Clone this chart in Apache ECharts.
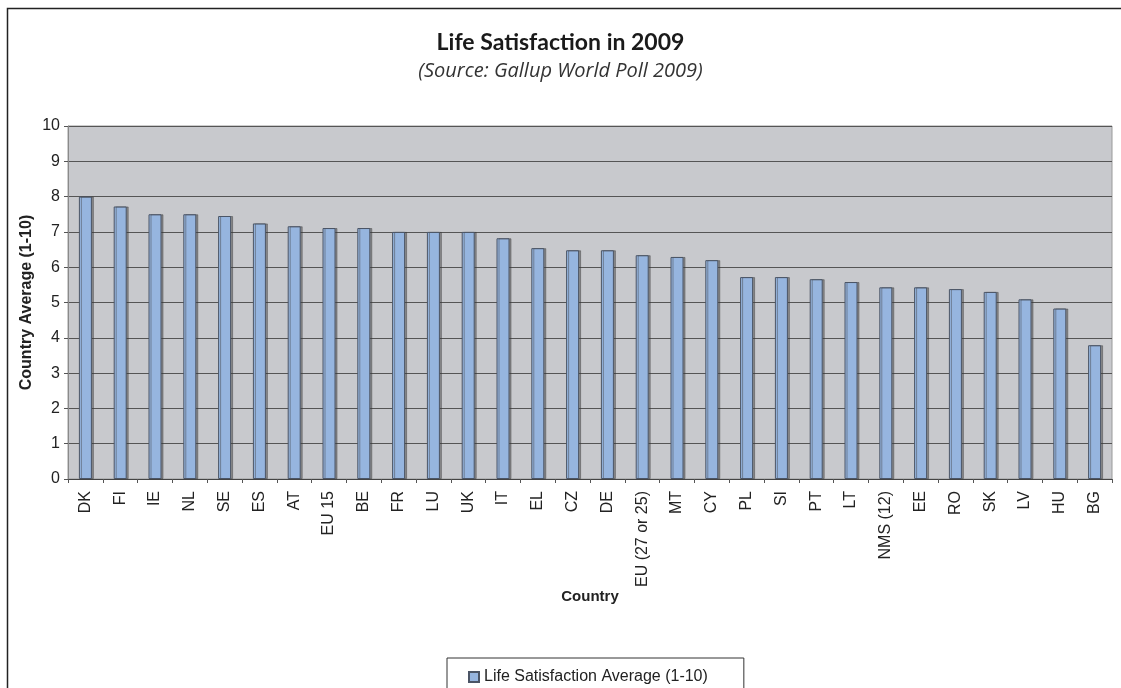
<!DOCTYPE html>
<html>
<head>
<meta charset="utf-8">
<title>Life Satisfaction in 2009</title>
<script src="https://cdn.jsdelivr.net/npm/echarts@6/dist/echarts.min.js"></script>
<style>
  html, body { margin: 0; padding: 0; background: #fff; }
  #chart { width: 1121px; height: 688px; }
</style>
</head>
<body>
<div id="chart"></div>
<script>
// country codes, in the order shown
const countries = ['DK', 'FI', 'IE', 'NL', 'SE', 'ES', 'AT', 'EU 15', 'BE', 'FR', 'LU', 'UK', 'IT', 'EL',
  'CZ', 'DE', 'EU (27 or 25)', 'MT', 'CY', 'PL', 'SI', 'PT', 'LT', 'NMS (12)', 'EE', 'RO', 'SK', 'LV', 'HU', 'BG'];
// life satisfaction average (1-10)
const satisfaction = [8.0, 7.72, 7.5, 7.5, 7.45, 7.24, 7.16, 7.11, 7.11, 7.0, 7.0, 7.0, 6.82, 6.54,
  6.48, 6.48, 6.34, 6.29, 6.2, 5.72, 5.72, 5.66, 5.58, 5.43, 5.43, 5.38, 5.3, 5.09, 4.83, 3.79];
const seriesName = 'Life Satisfaction Average (1-10)';

const chart = echarts.init(document.getElementById('chart'));

const labelFont = 'Arial, Liberation Sans';

const option = {
  backgroundColor: '#fff',
  animation: false,
  title: {
    text: 'Life Satisfaction in 2009',
    subtext: '(Source: Gallup World Poll 2009)',
    left: 'center',
    top: 26,
    itemGap: 7,
    textStyle: { fontFamily: 'Lato', fontWeight: 'bold', fontSize: 23, color: '#1a1a1a' },
    subtextStyle: { fontFamily: 'Open Sans', fontStyle: 'italic', fontSize: 20, color: '#333' }
  },
  // outer frame of the chart (only left and top edges are in view)
  graphic: [{
    type: 'rect',
    silent: true,
    shape: { x: 7.5, y: 8.5, width: 1300, height: 900 },
    style: { fill: 'none', stroke: '#222', lineWidth: 1.5 }
  }],
  legend: {
    data: [seriesName],
    left: 447,
    top: 658,
    padding: [11, 36, 20, 21],
    itemWidth: 10,
    itemHeight: 10,
    itemGap: 8,
    icon: 'rect',
    borderColor: '#333',
    borderWidth: 1,
    textStyle: { fontFamily: labelFont, fontSize: 16, color: '#222' }
  },
  grid: {
    left: 68,
    right: 9,
    top: 126,
    bottom: 209,
    show: true,
    backgroundColor: '#C8C9CD',
    borderColor: '#9a9a9a',
    borderWidth: 1
  },
  xAxis: {
    type: 'category',
    data: countries,
    boundaryGap: true,
    name: 'Country',
    nameLocation: 'middle',
    nameGap: 110,
    nameMoveOverlap: false,
    nameTextStyle: { fontFamily: labelFont, fontWeight: 'bold', fontSize: 15, color: '#222' },
    axisLine: { lineStyle: { color: '#444', width: 1 } },
    axisTick: { show: true, alignWithLabel: false, length: 4, lineStyle: { color: '#555' } },
    axisLabel: {
      rotate: 90,
      interval: 0,
      margin: 12,
      fontFamily: labelFont,
      fontSize: 16,
      color: '#222'
    },
    splitLine: { show: false }
  },
  yAxis: {
    type: 'value',
    min: 0,
    max: 10,
    interval: 1,
    name: 'Country Average (1-10)',
    nameLocation: 'middle',
    nameGap: 33,
    nameMoveOverlap: false,
    nameRotate: 90,
    nameTextStyle: { fontFamily: labelFont, fontWeight: 'bold', fontSize: 16, color: '#222' },
    axisLine: { show: true, lineStyle: { color: '#8a8a8a' } },
    axisTick: { show: true, length: 4, lineStyle: { color: '#555' } },
    axisLabel: { margin: 8, fontFamily: labelFont, fontSize: 16, color: '#222' },
    splitLine: { show: true, lineStyle: { color: '#555', width: 1 } }
  },
  series: [{
    name: seriesName,
    type: 'bar',
    data: satisfaction,
    barWidth: 13,
    itemStyle: {
      color: '#96B5DF',
      borderColor: '#4b5566',
      borderWidth: 1,
      shadowColor: 'rgba(60,60,60,0.45)',
      shadowOffsetX: 2,
      shadowOffsetY: 0,
      shadowBlur: 0
    }
  }]
};

chart.setOption(option);
</script>
</body>
</html>
